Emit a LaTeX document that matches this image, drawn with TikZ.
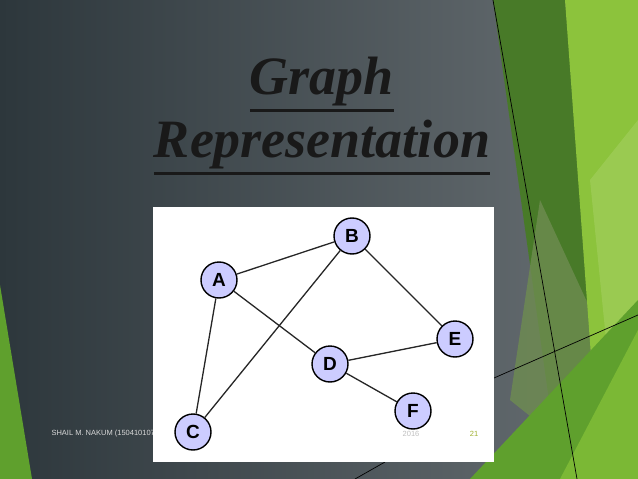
\documentclass[tikz,border=0pt]{standalone}
\usepackage{fontspec}
\setmainfont{Liberation Serif}
\setsansfont{Liberation Sans}
\definecolor{bgdark}{RGB}{45,55,60}
\definecolor{bglight}{RGB}{105,112,116}
\definecolor{gA}{RGB}{95,160,45}
\definecolor{gDark}{RGB}{72,122,40}
\definecolor{gGray}{RGB}{110,140,80}
\definecolor{gLight}{RGB}{140,195,60}
\definecolor{gPale}{RGB}{160,205,90}
\definecolor{gB}{RGB}{130,190,55}
\definecolor{nodefill}{RGB}{204,204,255}
\definecolor{titlec}{RGB}{25,25,25}
\definecolor{pagec}{RGB}{160,176,48}
\begin{document}
\begin{tikzpicture}[x=1pt,y=-1pt,
  gnode/.style={circle,draw=black,line width=1.4pt,fill=nodefill,minimum size=36pt,inner sep=0pt,font=\sffamily\bfseries\fontsize{19}{19}\selectfont},
  gedge/.style={line width=1.3pt,draw=black!85},
  thinline/.style={draw=black,line width=0.7pt},
  titlenode/.style={font=\bfseries\itshape\fontsize{54}{54}\selectfont,text=titlec,inner sep=0pt}]
\useasboundingbox (0,0) rectangle (638,479);
\shade[left color=bgdark,right color=bglight] (0,0) rectangle (638,479);
% green shapes
\fill[gA] (0,285) -- (32,479) -- (0,479) -- cycle;
\fill[gDark] (493,0) -- (565,0) -- (610,479) -- (560,479) -- cycle;
\fill[gGray,opacity=0.8] (540,200) -- (600,330) -- (560,440) -- (510,400) -- cycle;
\fill[gLight] (565,0) -- (638,0) -- (638,479) -- (600,479) -- cycle;
\fill[gPale,opacity=0.7] (590,180) -- (638,120) -- (638,479) -- (620,479) -- cycle;
\fill[gA] (470,479) -- (638,300) -- (638,479) -- cycle;
\fill[gB,opacity=0.8] (560,479) -- (638,330) -- (638,479) -- cycle;
\coordinate (l1a) at (493,0); \coordinate (l1b) at (577,479);
\coordinate (l2a) at (494,378); \coordinate (l2b) at (638,315);
\coordinate (l3a) at (355,479); \coordinate (l3b) at (385,462);
\draw[thinline] (l1a) -- (l1b);
\draw[thinline] (l2a) -- (l2b);
\draw[thinline] (l3a) -- (l3b);
% title
\node[titlenode] (t1) at (322,82) {Graph};
\node[titlenode] (t2) at (322,145) {Representation};
\draw[titlec,line width=2.5pt] ([yshift=-4pt]t1.south west) -- ([yshift=-4pt]t1.south east);
\draw[titlec,line width=2.5pt] ([yshift=-4pt]t2.south west) -- ([yshift=-4pt]t2.south east);
% footer
\node[anchor=west,font=\sffamily\fontsize{7.5}{7.5}\selectfont,text=black!15] (foot) at (48,434) {SHAIL M. NAKUM (150410107036)};
% white box
\fill[white] (153,207) rectangle (494,462);
\node[font=\sffamily\fontsize{7.5}{7.5}\selectfont,text=black!25] (yr) at (411,434) {2016};
\node[font=\sffamily\fontsize{7.5}{7.5}\selectfont,text=pagec] (pg) at (474,434) {21};
% graph
\node[gnode] (A) at (219,280) {A};
\node[gnode] (B) at (352,236) {B};
\node[gnode] (E) at (455,339) {E};
\node[gnode] (D) at (330,364) {D};
\node[gnode] (F) at (413,411) {F};
\node[gnode] (C) at (193,432) {C};
\draw[gedge] (A) -- (B);
\draw[gedge] (A) -- (D);
\draw[gedge] (A) -- (C);
\draw[gedge] (B) -- (C);
\draw[gedge] (B) -- (E);
\draw[gedge] (D) -- (E);
\draw[gedge] (D) -- (F);
\end{tikzpicture}
\end{document}
